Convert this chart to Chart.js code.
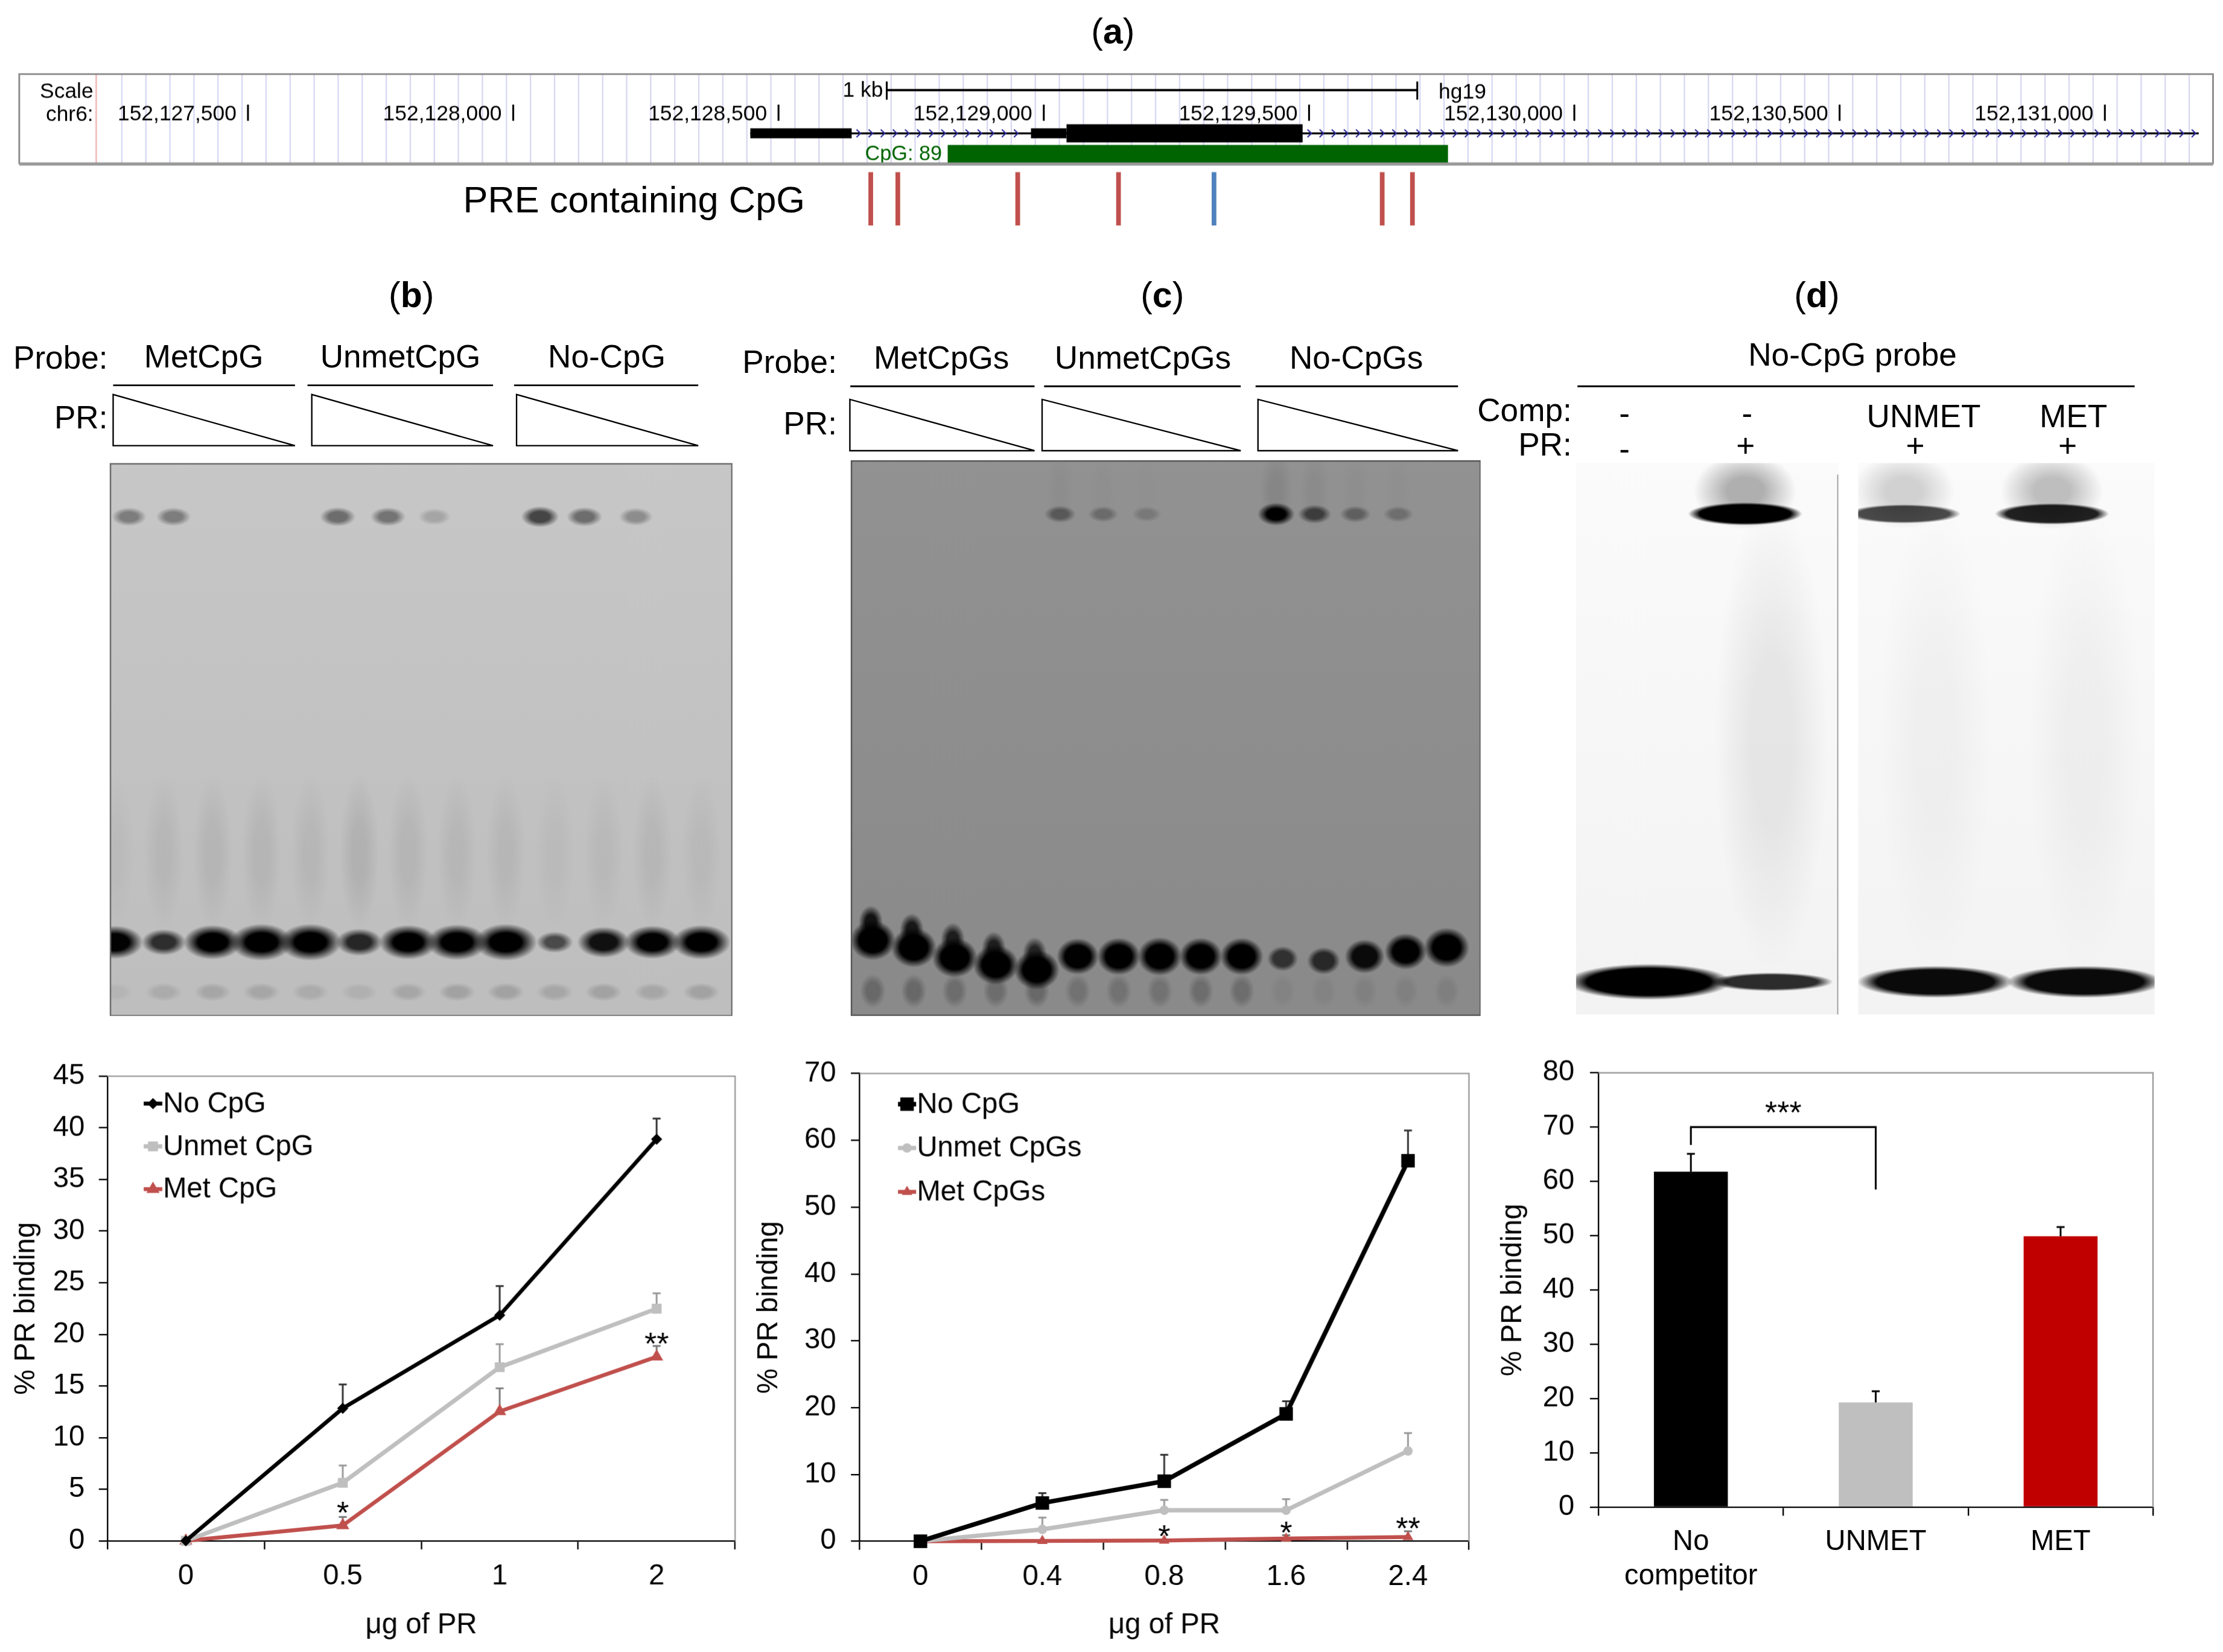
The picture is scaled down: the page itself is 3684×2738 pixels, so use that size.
<!DOCTYPE html>
<html><head><meta charset="utf-8">
<script src="https://cdn.jsdelivr.net/npm/chart.js@4.4.1/dist/chart.umd.min.js"></script>
<style>
html,body{margin:0;padding:0;background:#fff;overflow:hidden;width:3684px;height:2738px;}
#page{position:absolute;left:0;top:0;width:1560px;height:1159px;transform-origin:0 0;font-family:'Liberation Sans',Arial,Helvetica,sans-serif;color:#000;}
.box{position:absolute;}
.t{position:absolute;white-space:nowrap;line-height:1;}
.c{transform:translate(-50%,-50%);}
.r{transform:translate(-100%,-50%);}
.l{transform:translate(0,-50%);}
.h{font-size:22.5px;}
.p{font-size:25px;}
</style></head><body>
<div id="page">
  <div class="t c p" style="left:781px;top:22px">(<b>a</b>)</div>
  <div class="t l" style="left:325px;top:140px;font-size:26px">PRE containing CpG</div>

  <div class="t c p" style="left:288.7px;top:206.8px">(<b>b</b>)</div>
  <div class="t c p" style="left:815.7px;top:206.5px">(<b>c</b>)</div>
  <div class="t c p" style="left:1275px;top:206.8px">(<b>d</b>)</div>

  <div class="t r h" style="left:75.6px;top:252px">Probe:</div>
  <div class="t c h" style="left:143px;top:251.3px">MetCpG</div>
  <div class="t c h" style="left:281px;top:251.3px">UnmetCpG</div>
  <div class="t c h" style="left:425.8px;top:251.3px">No-CpG</div>
  <div class="t r h" style="left:75.6px;top:294px">PR:</div>

  <div class="t r h" style="left:587.3px;top:254.5px">Probe:</div>
  <div class="t c h" style="left:660.7px;top:251.8px">MetCpGs</div>
  <div class="t c h" style="left:802px;top:251.8px">UnmetCpGs</div>
  <div class="t c h" style="left:951.8px;top:251.8px">No-CpGs</div>
  <div class="t r h" style="left:587.3px;top:297.5px">PR:</div>

  <div class="t c h" style="left:1300px;top:249.6px">No-CpG probe</div>
  <div class="t r h" style="left:1103px;top:288.9px">Comp:</div>
  <div class="t c h" style="left:1140px;top:290.6px">-</div>
  <div class="t c h" style="left:1226px;top:290.6px">-</div>
  <div class="t c h" style="left:1350px;top:293px">UNMET</div>
  <div class="t c h" style="left:1455px;top:293px">MET</div>
  <div class="t r h" style="left:1103px;top:312.8px">PR:</div>
  <div class="t c h" style="left:1140px;top:316.3px">-</div>
  <div class="t c h" style="left:1225px;top:313.5px">+</div>
  <div class="t c h" style="left:1344px;top:313.5px">+</div>
  <div class="t c h" style="left:1451px;top:313.5px">+</div>

  <svg class="box" style="left:0;top:0" width="1560" height="1159" viewBox="0 0 1560 1159">
    <g stroke="#000" stroke-width="1.2" fill="none">
      <line x1="79.4" y1="270.4" x2="207" y2="270.4"/>
      <line x1="215.8" y1="270.4" x2="346" y2="270.4"/>
      <line x1="360.8" y1="270.4" x2="490" y2="270.4"/>
      <line x1="596.7" y1="271.1" x2="726" y2="271.1"/>
      <line x1="732.7" y1="271.1" x2="870.7" y2="271.1"/>
      <line x1="881.1" y1="271.1" x2="1023.2" y2="271.1"/>
      <line x1="1107" y1="271.1" x2="1498" y2="271.1"/>
    </g>
    <g stroke="#000" stroke-width="1" fill="#fff">
      <polygon points="79.4,276.9 79.4,312.8 207,312.8"/>
      <polygon points="218.8,276.9 218.8,312.8 346,312.8"/>
      <polygon points="362.5,276.9 362.5,312.8 490,312.8"/>
      <polygon points="596.4,280.3 596.4,316.3 726,316.3"/>
      <polygon points="731.3,280.3 731.3,316.3 870.7,316.3"/>
      <polygon points="882.8,280.3 882.8,316.3 1023.2,316.3"/>
    </g>
  </svg>

  <div class="box" style="left:0;top:45px;width:1560px;height:120px"><canvas id="track"></canvas></div>
  <div class="box" style="left:76.5px;top:324.8px;width:437.5px;height:388.2px"><canvas id="gelB"></canvas></div>
  <div class="box" style="left:597px;top:323px;width:442px;height:390px"><canvas id="gelC"></canvas></div>
  <div class="box" style="left:1106px;top:325px;width:184px;height:386.5px"><canvas id="gelD1"></canvas></div>
  <div class="box" style="left:1304px;top:325px;width:208px;height:386.5px"><canvas id="gelD2"></canvas></div>
  <div class="box" style="left:0;top:740px;width:530px;height:419px"><canvas id="chartB"></canvas></div>
  <div class="box" style="left:520px;top:740px;width:525px;height:419px"><canvas id="chartC"></canvas></div>
  <div class="box" style="left:1045px;top:740px;width:515px;height:419px"><canvas id="chartD"></canvas></div>
</div>
<script>
// ---------------- DATA ----------------
// (a) genome browser track (hg19, chr6)
const genomeTicks = [152127500,152128000,152128500,152129000,152129500,152130000,152130500,152131000];
const geneSpan = [152128447, 152131177];
const utrExons = [[152128447,152128638],[152128976,152129043]];
const cdsExons = [[152129043,152129488]];
const cpgIsland = [152128819,152129762];
const cpgLabel = 'CpG: 89';
const preSites = [152128674,152128725,152128951,152129141,152129321,152129638,152129695];
const preHasCpG = [true,true,true,true,false,true,true];
const scaleBarStart = 152128704;
const scaleBarLen = 1000;
const geneRow = 1, cpgRow = 2;

// (b) line chart
const doseB = ['0','0.5','1','2'];
const noCpgB = [0,12.84,21.85,38.9];
const noCpgErrB = [0,2.31,2.82,2.0];
const unmetB = [0,5.62,16.82,22.48];
const unmetErrB = [0,1.67,2.23,1.49];
const metB = [0,1.49,12.54,17.83];
const metErrB = [0,0.82,2.23,1.04];
const starsB = ['*','**'];
const starsBAt = [1,3];
const starsBY = [3.4,19.8];

// (c) line chart
const doseC = ['0','0.4','0.8','1.6','2.4'];
const noCpgC = [0,5.72,8.99,19.06,56.95];
const noCpgErrC = [0,1.48,3.95,1.89,4.53];
const unmetC = [0,1.77,4.64,4.64,13.51];
const unmetErrC = [0,1.78,1.54,1.66,2.69];
const metC = [0,0.05,0.1,0.4,0.63];
const metErrC = [0,0,0,0.5,0.86];
const starsC = ['*','*','**'];
const starsCAt = [2,3,4];
const starsCY = [1.8,2.35,3.0];

// (d) bar chart
const compLabels = [['No','competitor'],'UNMET','MET'];
const compValues = [61.8,19.3,49.9];
const compErr = [3.26,2.05,1.7];
const bracketFrom = 0, bracketTo = 1;
const bracketTop = 70, bracketLeftEnd = 66.7, bracketRightEnd = 58.5;
const bracketLabel = '***', bracketLabelY = 74;

// gels: lane numbers, band intensities (0..1) and migration (0 = well, 1 = gel bottom)
const gelBLanes = [1,2,3,4,5,6,7,8,9,10,11,12,13];
const gelBFree = [0.85,0.55,0.9,1.0,1.0,0.6,0.9,0.95,1.0,0.35,0.75,0.85,0.9];
const gelBFreeMig = 0.866;
const gelBShiftLanes = [1.29,2.2,5.56,6.59,7.54,9.7,10.61,11.66];
const gelBShift = [0.4,0.4,0.5,0.45,0.15,0.75,0.5,0.3];
const gelBShiftMig = 0.097;
const gelBLower = [0.1,0.2,0.25,0.25,0.2,0.15,0.25,0.3,0.3,0.25,0.3,0.25,0.3];
const gelBLowerMig = 0.956;
const gelBSmear = [0.03,0.05,0.06,0.06,0.05,0.08,0.06,0.05,0.05,0.03,0.04,0.05,0.04];

const gelCLanes = [1,2,3,4,5,6,7,8,9,10,11,12,13,14,15];
const gelCFree = [1,1,1,1,1,0.85,0.9,0.95,0.9,0.9,0.35,0.45,0.75,0.85,1.0];
const gelCFreeMig = [0.864,0.877,0.895,0.908,0.917,0.893,0.893,0.893,0.893,0.893,0.897,0.901,0.893,0.884,0.877];
const gelCLobeLanes = [0.95,1.95,2.95,3.95,4.95];
const gelCLobe = [0.85,0.8,0.75,0.75,0.7];
const gelCLobeMig = [0.832,0.846,0.863,0.879,0.889];
const gelCShiftLanes = [5.57,6.62,7.68,10.84,11.78,12.77,13.82];
const gelCShift = [0.35,0.22,0.12,1.0,0.55,0.3,0.2];
const gelCShiftMig = 0.097;
const gelCLower = [0.35,0.35,0.3,0.3,0.35,0.25,0.25,0.25,0.3,0.3,0.08,0.08,0.1,0.1,0.12];
const gelCLowerMig = 0.955;

const gelDLanes = [1,2,3,4];
const gelDFree = [1.0,0.55,0.9,0.9];
const gelDFreeMig = 0.94;
const gelDShiftLanes = [1.785,2.79,3.78];
const gelDShift = [1.0,0.55,0.8];
const gelDShiftMig = 0.092;
const gelDSmear = [0,0.07,0.03,0.035];

// ---------------- SETUP ----------------
const S = 3684/1560;
document.getElementById('page').style.transform = 'scale(' + S + ')';
const FONT = "'Liberation Sans', Arial, Helvetica, sans-serif";
Chart.defaults.font.family = FONT;
Chart.defaults.color = '#000';

const base = () => ({
  responsive: true, maintainAspectRatio: false, animation: false, devicePixelRatio: S, events: [],
});

// ---------------- (a) TRACK ----------------
const trackDecor = {
  id: 'trackDecor',
  beforeDatasetsDraw(chart, args, o) {
    const {ctx, chartArea: a} = chart;
    const boxB = a.top + o.boxH;
    ctx.save();
    ctx.lineWidth = 1;
    ctx.strokeStyle = '#d8d8f4';
    for (let px = a.left + o.guideStart; px < a.right - 3; px += o.guideStep) {
      ctx.beginPath(); ctx.moveTo(px, a.top); ctx.lineTo(px, boxB); ctx.stroke();
    }
    ctx.strokeStyle = '#f0b4b4';
    ctx.beginPath(); ctx.moveTo(a.left + o.pinkAt, a.top); ctx.lineTo(a.left + o.pinkAt, boxB); ctx.stroke();
    ctx.restore();
  },
  afterDatasetsDraw(chart, args, o) {
    const {ctx, chartArea: a} = chart;
    const xs = chart.scales.x, yg = chart.scales.yGene;
    const boxB = a.top + o.boxH;
    ctx.save();
    const cy = yg.getPixelForValue(geneRow);
    const exons = utrExons.concat(cdsExons).sort((p, q) => p[0] - q[0]);
    const gaps = [];
    let cur = geneSpan[0];
    exons.forEach(e => { if (e[0] > cur) gaps.push([cur, e[0]]); cur = Math.max(cur, e[1]); });
    if (geneSpan[1] > cur) gaps.push([cur, geneSpan[1]]);
    ctx.strokeStyle = '#2a2a9a'; ctx.lineWidth = 0.9;
    gaps.forEach(([g0, g1]) => {
      const p0 = xs.getPixelForValue(g0), p1 = xs.getPixelForValue(g1);
      for (let px = p0 + 5; px < p1 - 2; px += 8.5) {
        ctx.beginPath(); ctx.moveTo(px - 1.6, cy - 2.7); ctx.lineTo(px + 1.2, cy); ctx.lineTo(px - 1.6, cy + 2.7); ctx.stroke();
      }
    });
    ctx.fillStyle = '#000';
    ctx.font = '15px ' + FONT;
    ctx.textBaseline = 'middle';
    ctx.textAlign = 'right';
    ctx.fillText('Scale', a.left + 52, a.top + 12.5);
    ctx.fillText('chr6:', a.left + 52, a.top + 28.5);
    genomeTicks.forEach(t => {
      const px = xs.getPixelForValue(t);
      ctx.fillText(t.toLocaleString('en-US'), px - 8, a.top + 28.3);
      ctx.fillRect(px - 0.6, a.top + 21.4, 1.3, 11.3);
    });
    const s0 = xs.getPixelForValue(scaleBarStart), s1 = xs.getPixelForValue(scaleBarStart + scaleBarLen);
    ctx.fillRect(s0, a.top + 10.4, s1 - s0, 1.6);
    ctx.fillRect(s0 - 0.6, a.top + 5.2, 1.3, 12.7);
    ctx.fillRect(s1 - 0.6, a.top + 5.2, 1.3, 12.7);
    ctx.fillText('1 kb', s0 - 2.5, a.top + 11.8);
    ctx.textAlign = 'left';
    ctx.fillText('hg19', s1 + 15, a.top + 13.2);
    ctx.fillStyle = '#006400';
    ctx.textAlign = 'right';
    ctx.font = '14.5px ' + FONT;
    ctx.fillText(cpgLabel, xs.getPixelForValue(cpgIsland[0]) - 4, yg.getPixelForValue(cpgRow) + 0.5);
    ctx.strokeStyle = '#8a8a8a'; ctx.lineWidth = 1.2;
    ctx.strokeRect(a.left, a.top, a.right - a.left, o.boxH);
    ctx.strokeStyle = '#9a9a9a'; ctx.lineWidth = 2;
    ctx.beginPath(); ctx.moveTo(a.left, boxB + 0.6); ctx.lineTo(a.right, boxB + 0.6); ctx.stroke();
    ctx.restore();
  }
};

new Chart(document.getElementById('track'), {
  type: 'scatter',
  data: {
    datasets: [
      {type: 'bar', indexAxis: 'y', yAxisID: 'yGene', grouped: false, barThickness: 1.4, inflateAmount: 0,
       backgroundColor: '#000', data: [{x: geneSpan, y: geneRow}]},
      {type: 'bar', indexAxis: 'y', yAxisID: 'yGene', grouped: false, barThickness: 7, inflateAmount: 0,
       backgroundColor: '#000', data: utrExons.map(e => ({x: e, y: geneRow}))},
      {type: 'bar', indexAxis: 'y', yAxisID: 'yGene', grouped: false, barThickness: 12.7, inflateAmount: 0,
       backgroundColor: '#000', data: cdsExons.map(e => ({x: e, y: geneRow}))},
      {type: 'bar', indexAxis: 'y', yAxisID: 'yGene', grouped: false, barThickness: 12.7, inflateAmount: 0,
       backgroundColor: '#006400', data: [{x: cpgIsland, y: cpgRow}]},
      {type: 'bar', indexAxis: 'x', yAxisID: 'yPre', grouped: false, barThickness: 3.3, inflateAmount: 0,
       backgroundColor: preHasCpG.map(h => h ? '#c0504d' : '#4f81bd'),
       data: preSites.map(s => ({x: s, y: [0, 1]}))}
    ]
  },
  options: Object.assign(base(), {
    layout: {padding: {left: 13.5, right: 7, top: 7, bottom: 5}},
    plugins: {legend: {display: false}, tooltip: {enabled: false},
      trackDecor: {boxH: 62.5, guideStart: 72, guideStep: 16.87, pinkAt: 54}},
    scales: {
      x: {type: 'linear', min: 152127069, max: 152131204, display: false, offset: false},
      yGene: {axis: 'y', type: 'linear', reverse: true, min: -1.862, max: 5.586, display: false, offset: false},
      yPre: {axis: 'y', type: 'linear', min: -0.0508, max: 2.837, display: false, offset: false}
    }
  }),
  plugins: [trackDecor]
});

// ---------------- GELS ----------------
function blob(ctx, x, y, rx, ry, alpha, core) {
  if (rx <= 0 || ry <= 0 || alpha <= 0) return;
  ctx.save(); ctx.translate(x, y); ctx.scale(rx, ry);
  const g = ctx.createRadialGradient(0, 0, 0, 0, 0, 1);
  g.addColorStop(0, 'rgba(0,0,0,' + alpha + ')');
  g.addColorStop(core, 'rgba(0,0,0,' + alpha + ')');
  g.addColorStop(1, 'rgba(0,0,0,0)');
  ctx.fillStyle = g; ctx.beginPath(); ctx.arc(0, 0, 1, 0, Math.PI * 2); ctx.fill(); ctx.restore();
}
const gelPainter = {
  id: 'gelPainter',
  beforeDatasetsDraw(chart, args, o) {
    const {ctx, chartArea: a} = chart;
    ctx.save();
    const g = ctx.createLinearGradient(0, a.top, 0, a.bottom);
    g.addColorStop(0, o.bgTop); g.addColorStop(1, o.bgBottom);
    ctx.fillStyle = g; ctx.fillRect(a.left, a.top, a.right - a.left, a.bottom - a.top);
    ctx.restore();
  },
  afterDatasetsDraw(chart, args, o) {
    const {ctx, chartArea: a} = chart;
    ctx.save();
    ctx.beginPath(); ctx.rect(a.left, a.top, a.right - a.left, a.bottom - a.top); ctx.clip();
    chart.data.datasets.forEach((ds, i) => {
      const st = o.styles[ds.kind]; if (!st) return;
      chart.getDatasetMeta(i).data.forEach((el, j) => {
        const v = ds.data[j].v; if (!v) return;
        if (st.smear) {
          const h = st.smear.len, w = st.smear.w;
          blob(ctx, el.x, el.y - h / 2, w / 2, h / 2, st.smear.a * v, 0.35);
          return;
        }
        const rx = st.rx[0] + st.rx[1] * v, ry = st.ry[0] + st.ry[1] * v;
        if (st.halo) {
          const span = el.y - a.top;
          blob(ctx, el.x, a.top + span * 0.55, rx * 0.9, span * 0.75, st.halo * v, 0.35);
        }
        blob(ctx, el.x, el.y, rx, ry, Math.min(1, st.a[0] + st.a[1] * v), st.core || 0.5);
      });
    });
    ctx.restore();
    if (o.border) {
      ctx.save(); ctx.strokeStyle = o.border; ctx.lineWidth = 1;
      ctx.strokeRect(a.left + 0.5, a.top + 0.5, a.right - a.left - 1, a.bottom - a.top - 1);
      ctx.restore();
    }
    if (o.edgeRight) {
      ctx.save(); ctx.strokeStyle = o.edgeRight; ctx.lineWidth = 0.8;
      ctx.beginPath(); ctx.moveTo(a.right - 0.5, a.top + 8); ctx.lineTo(a.right - 0.5, a.bottom); ctx.stroke();
      ctx.restore();
    }
  }
};
const pts = (xs, ys, vs) => xs.map((x, i) => ({x, y: Array.isArray(ys) ? ys[i] : ys, v: vs[i]}));
function gelChart(id, xMin, xMax, datasets, style) {
  return new Chart(document.getElementById(id), {
    type: 'scatter',
    data: {datasets: datasets.map(d => Object.assign({pointRadius: 0, pointHoverRadius: 0}, d))},
    options: Object.assign(base(), {
      layout: {padding: 0},
      plugins: {legend: {display: false}, tooltip: {enabled: false}, gelPainter: style},
      scales: {
        x: {type: 'linear', min: xMin, max: xMax, display: false},
        y: {type: 'linear', min: 0, max: 1, reverse: true, display: false}
      }
    }),
    plugins: [gelPainter]
  });
}
gelChart('gelB', 0.895, 13.639, [
  {kind: 'smear', data: pts(gelBLanes, gelBFreeMig - 0.02, gelBSmear)},
  {kind: 'lower', data: pts(gelBLanes, gelBLowerMig, gelBLower)},
  {kind: 'shift', data: pts(gelBShiftLanes, gelBShiftMig, gelBShift)},
  {kind: 'free', data: pts(gelBLanes, gelBFreeMig, gelBFree)}
], {bgTop: '#c7c7c7', bgBottom: '#bebebe', border: '#6a6a6a', styles: {
  smear: {smear: {len: 110, w: 28, a: 1}},
  lower: {rx: [13, 0], ry: [6.5, 0], a: [0, 0.5]},
  shift: {rx: [11, 3], ry: [5.5, 2.5], a: [0.05, 0.8]},
  free: {rx: [8, 14], ry: [4.5, 8.5], a: [0.35, 0.75]}
}});
gelChart('gelC', 0.461, 15.84, [
  {kind: 'lower', data: pts(gelCLanes, gelCLowerMig, gelCLower)},
  {kind: 'shift', data: pts(gelCShiftLanes, gelCShiftMig, gelCShift)},
  {kind: 'lobe', data: pts(gelCLobeLanes, gelCLobeMig, gelCLobe)},
  {kind: 'free', data: pts(gelCLanes, gelCFreeMig, gelCFree)}
], {bgTop: '#929292', bgBottom: '#8a8a8a', border: '#555', styles: {
  lower: {rx: [9, 0], ry: [12, 0], a: [0, 0.7]},
  shift: {rx: [10, 3], ry: [5, 3], a: [0.05, 0.95], halo: 0.08},
  lobe: {rx: [8.5, 0], ry: [12, 0], a: [0.15, 0.85], core: 0.45},
  free: {rx: [8, 8], ry: [6, 8], a: [0.4, 0.7], core: 0.6}
}});
const gelDStyle = (edge) => ({bgTop: '#fbfbfb', bgBottom: '#f3f3f3', border: null, edgeRight: edge, styles: {
  smear: {smear: {len: 330, w: 80, a: 1}},
  shift: {rx: [40, 0], ry: [5, 3], a: [0.35, 0.65], core: 0.8, halo: 0.3},
  free: {rx: [25, 33], ry: [-1, 13.6], a: [0.6, 0.4], core: 0.75}
}});
gelChart('gelD1', 0.407, 2.547, [
  {kind: 'smear', data: pts(gelDLanes.slice(0, 2), gelDFreeMig - 0.02, gelDSmear.slice(0, 2))},
  {kind: 'shift', data: pts(gelDShiftLanes.slice(0, 1), gelDShiftMig, gelDShift.slice(0, 1))},
  {kind: 'free', data: pts(gelDLanes.slice(0, 2), gelDFreeMig, gelDFree.slice(0, 2))}
], gelDStyle('#8a8a8a'));
gelChart('gelD2', 2.486, 4.467, [
  {kind: 'smear', data: pts(gelDLanes.slice(2, 4), gelDFreeMig - 0.02, gelDSmear.slice(2, 4))},
  {kind: 'shift', data: pts(gelDShiftLanes.slice(1, 3), gelDShiftMig, gelDShift.slice(1, 3))},
  {kind: 'free', data: pts(gelDLanes.slice(2, 4), gelDFreeMig, gelDFree.slice(2, 4))}
], gelDStyle(null));

// ---------------- QUANTIFICATION CHARTS ----------------
function drawMarker(ctx, style, r, x, y, color) {
  ctx.save(); ctx.fillStyle = color; ctx.strokeStyle = color; ctx.lineWidth = 1;
  ctx.beginPath();
  if (style === 'rectRot') { ctx.moveTo(x - r, y); ctx.lineTo(x, y - r); ctx.lineTo(x + r, y); ctx.lineTo(x, y + r); ctx.closePath(); }
  else if (style === 'rect') { const s = r * Math.SQRT1_2; ctx.rect(x - s, y - s, 2 * s, 2 * s); }
  else if (style === 'triangle') {
    let rad = 0;
    ctx.moveTo(x + Math.sin(rad) * r, y - Math.cos(rad) * r);
    rad += 2 * Math.PI / 3; ctx.lineTo(x + Math.sin(rad) * r, y - Math.cos(rad) * r);
    rad += 2 * Math.PI / 3; ctx.lineTo(x + Math.sin(rad) * r, y - Math.cos(rad) * r);
    ctx.closePath();
  } else { ctx.arc(x, y, r, 0, Math.PI * 2); }
  ctx.fill(); ctx.stroke(); ctx.restore();
}
function drawErrors(chart) {
  const {ctx} = chart; const y = chart.scales.y;
  chart.data.datasets.forEach((ds, i) => {
    if (!ds.errors) return;
    chart.getDatasetMeta(i).data.forEach((el, j) => {
      const e = ds.errors[j]; if (!e) return;
      const top = y.getPixelForValue(ds.data[j] + e);
      ctx.save(); ctx.strokeStyle = ds.errorColor; ctx.lineWidth = 1.25;
      ctx.beginPath(); ctx.moveTo(el.x, el.y); ctx.lineTo(el.x, top);
      ctx.moveTo(el.x - 2.8, top); ctx.lineTo(el.x + 2.8, top); ctx.stroke(); ctx.restore();
    });
  });
}
const errorBars = {
  id: 'errorBars',
  beforeDatasetsDraw(chart, a, o) { if (o.before) drawErrors(chart); },
  afterDatasetsDraw(chart, a, o) { if (!o.before) drawErrors(chart); }
};
const frame = {
  id: 'frame',
  beforeDatasetsDraw(chart) {
    const {ctx, chartArea: c} = chart;
    ctx.save(); ctx.strokeStyle = '#9a9a9a'; ctx.lineWidth = 1;
    ctx.beginPath(); ctx.moveTo(c.left, c.top); ctx.lineTo(c.right, c.top); ctx.lineTo(c.right, c.bottom); ctx.stroke();
    ctx.restore();
  }
};
const lineLegend = {
  id: 'lineLegend',
  afterDraw(chart, a, o) {
    if (!o || o.left === undefined) return;
    const {ctx, chartArea: c} = chart;
    chart.data.datasets.forEach((ds, i) => {
      const y = c.top + o.top + i * o.spacing;
      const x0 = c.left + o.left, x1 = x0 + o.lineLen;
      ctx.save(); ctx.strokeStyle = ds.borderColor; ctx.lineWidth = ds.borderWidth;
      ctx.beginPath(); ctx.moveTo(x0, y); ctx.lineTo(x1, y); ctx.stroke(); ctx.restore();
      drawMarker(ctx, ds.pointStyle, ds.pointRadius, (x0 + x1) / 2, y, ds.borderColor);
      ctx.save(); ctx.fillStyle = '#000'; ctx.font = '20px ' + FONT; ctx.textBaseline = 'middle'; ctx.textAlign = 'left';
      ctx.fillText(ds.label, x1 + 0.5, y + 0.5); ctx.restore();
    });
  }
};
const stars = {
  id: 'stars',
  afterDatasetsDraw(chart, a, o) {
    if (!o || !o.labels) return;
    const {ctx} = chart; const xs = chart.scales.x, ys = chart.scales.y;
    ctx.save(); ctx.fillStyle = '#000'; ctx.font = '22px ' + FONT; ctx.textAlign = 'center'; ctx.textBaseline = 'alphabetic';
    o.labels.forEach((t, i) => {
      ctx.fillText(t, xs.getPixelForValue(o.at[i]), ys.getPixelForValue(o.values[i]) + 0.575 * 22);
    });
    ctx.restore();
  }
};
const bracket = {
  id: 'bracket',
  afterDatasetsDraw(chart) {
    const {ctx} = chart; const xs = chart.scales.x, ys = chart.scales.y;
    const x0 = xs.getPixelForValue(bracketFrom), x1 = xs.getPixelForValue(bracketTo);
    ctx.save(); ctx.strokeStyle = '#000'; ctx.lineWidth = 1.3;
    ctx.beginPath();
    ctx.moveTo(x0, ys.getPixelForValue(bracketLeftEnd)); ctx.lineTo(x0, ys.getPixelForValue(bracketTop));
    ctx.lineTo(x1, ys.getPixelForValue(bracketTop)); ctx.lineTo(x1, ys.getPixelForValue(bracketRightEnd));
    ctx.stroke();
    ctx.fillStyle = '#000'; ctx.font = '22px ' + FONT; ctx.textAlign = 'center'; ctx.textBaseline = 'alphabetic';
    ctx.fillText(bracketLabel, (x0 + x1) / 2, ys.getPixelForValue(bracketLabelY) + 0.575 * 22);
    ctx.restore();
  }
};

function chartOpts(o) {
  const x = {
    type: 'category', offset: true,
    grid: {offset: true, drawOnChartArea: false, drawTicks: true, tickLength: 6, color: '#000', lineWidth: 1},
    border: {display: true, color: '#000', width: 1},
    ticks: {font: {size: 20}, padding: o.xPad, maxRotation: 0, autoSkip: false, color: '#000'},
    afterFit: s => { s.height = o.xH; s.paddingLeft = 0; s.paddingRight = 0; }
  };
  if (o.xTitle) x.title = {display: true, text: o.xTitle, font: {size: 20}, color: '#000', padding: {top: 0, bottom: 6.3}};
  return Object.assign(base(), {
    layout: {padding: {top: o.padTop, right: o.padRight, left: 0, bottom: 0}},
    plugins: {legend: {display: false}, tooltip: {enabled: false},
      lineLegend: o.legend || {}, stars: o.stars || {}, errorBars: {before: o.errBefore}},
    scales: {
      x,
      y: {
        type: 'linear', min: 0, max: o.yMax,
        ticks: {stepSize: o.yStep, font: {size: 20}, padding: o.yPad, color: '#000'},
        grid: {drawOnChartArea: false, drawTicks: true, tickLength: 6, color: '#000', lineWidth: 1},
        border: {display: true, color: '#000', width: 1},
        title: {display: true, text: '% PR binding', font: {size: 20}, color: '#000', padding: {top: o.yTitlePad, bottom: 0}},
        afterFit: s => { s.width = o.yW; s.paddingTop = 0; s.paddingBottom = 0; }
      }
    }
  });
}

new Chart(document.getElementById('chartB'), {
  type: 'line',
  data: {labels: doseB, datasets: [
    {label: 'No CpG', data: noCpgB, errors: noCpgErrB, errorColor: '#333', borderColor: '#000', backgroundColor: '#000',
     borderWidth: 2.75, pointStyle: 'rectRot', pointRadius: 3.2, pointBorderWidth: 1, tension: 0, clip: false},
    {label: 'Unmet CpG', data: unmetB, errors: unmetErrB, errorColor: '#9a9a9a', borderColor: '#bfbfbf', backgroundColor: '#bfbfbf',
     borderWidth: 3, pointStyle: 'rect', pointRadius: 4.2, pointBorderWidth: 1, tension: 0, clip: false},
    {label: 'Met CpG', data: metB, errors: metErrB, errorColor: '#7a7a7a', borderColor: '#c0504d', backgroundColor: '#c0504d',
     borderWidth: 2.75, pointStyle: 'triangle', pointRadius: 4.3, pointBorderWidth: 1, tension: 0, clip: false}
  ]},
  options: chartOpts({padTop: 15.3, padRight: 14.4, xH: 77.8, yW: 75.3, yPad: 9.9, yTitlePad: 6.7, xPad: 7,
    yMax: 45, yStep: 5, xTitle: 'μg of PR', errBefore: true,
    legend: {left: 25.5, top: 19.2, spacing: 30, lineLen: 13},
    stars: {labels: starsB, at: starsBAt, values: starsBY}}),
  plugins: [frame, errorBars, stars, lineLegend]
});

new Chart(document.getElementById('chartC'), {
  type: 'line',
  data: {labels: doseC, datasets: [
    {label: 'No CpG', data: noCpgC, errors: noCpgErrC, errorColor: '#333', borderColor: '#000', backgroundColor: '#000',
     borderWidth: 3.2, pointStyle: 'rect', pointRadius: 6, pointBorderWidth: 1, tension: 0, clip: false},
    {label: 'Unmet CpGs', data: unmetC, errors: unmetErrC, errorColor: '#9a9a9a', borderColor: '#bfbfbf', backgroundColor: '#bfbfbf',
     borderWidth: 3, pointStyle: 'circle', pointRadius: 2.8, pointBorderWidth: 1, tension: 0, clip: false},
    {label: 'Met CpGs', data: metC, errors: metErrC, errorColor: '#7a7a7a', borderColor: '#c0504d', backgroundColor: '#c0504d',
     borderWidth: 2.75, pointStyle: 'triangle', pointRadius: 3.3, pointBorderWidth: 1, tension: 0, clip: false}
  ]},
  options: chartOpts({padTop: 13.4, padRight: 14.5, xH: 77.5, yW: 83.1, yPad: 10.4, yTitlePad: 8, xPad: 7,
    yMax: 70, yStep: 10, xTitle: 'μg of PR', errBefore: true,
    legend: {left: 27, top: 21.5, spacing: 30.75, lineLen: 12.7},
    stars: {labels: starsC, at: starsCAt, values: starsCY}}),
  plugins: [frame, errorBars, stars, lineLegend]
});

new Chart(document.getElementById('chartD'), {
  type: 'bar',
  data: {labels: compLabels, datasets: [
    {data: compValues, errors: compErr, errorColor: '#000',
     backgroundColor: ['#000000', '#bfbfbf', '#c00000'], barPercentage: 0.4, categoryPercentage: 1, inflateAmount: 0}
  ]},
  options: chartOpts({padTop: 12.9, padRight: 49.2, xH: 101.4, yW: 76.7, yPad: 10.9, yTitlePad: 4.9, xPad: 6.5,
    yMax: 80, yStep: 10, errBefore: false}),
  plugins: [frame, errorBars, bracket]
});
</script>
</body></html>
